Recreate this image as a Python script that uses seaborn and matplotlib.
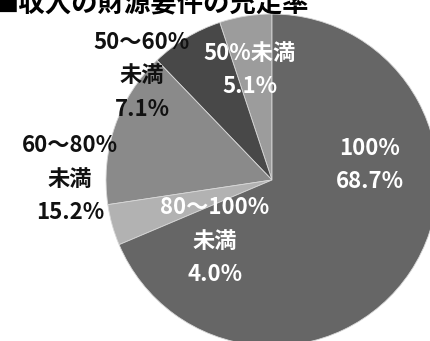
import matplotlib
matplotlib.use("Agg")
import matplotlib.pyplot as plt
import seaborn as sns

sns.set_theme(style="white")
plt.rcParams['font.family'] = ['Noto Sans CJK JP', 'DejaVu Sans']

# data (counter-clockwise from top)
categories = ["50%未満", "50～60%\n未満", "60～80%\n未満", "80～100%\n未満", "100%"]
values = [5.1, 7.1, 15.2, 4.0, 68.7]
pct_labels = ["5.1%", "7.1%", "15.2%", "4.0%", "68.7%"]
title = "■収入の財源要件の充足率"

# style
colors = ["#9c9c9c", "#484848", "#8a8a8a", "#b2b2b2", "#666666"]
text_colors = ["white", "#111111", "#111111", "white", "white"]
# label centres in pixel coords (x, y from top)
label_xy = [(250, 70), (142, 76), (70, 179), (215, 241), (370, 165)]

W, H = 430, 341
fig = plt.figure(figsize=(W / 100, H / 100), dpi=100)
ax = fig.add_axes([0, 0, 1, 1])

ax.pie(values, colors=colors, startangle=90, counterclock=True,
       center=(272, H - 180), radius=166, frame=True,
       wedgeprops=dict(edgecolor="#d8d8d8", linewidth=0.6))
ax.set_xlim(0, W)
ax.set_ylim(0, H)
ax.set_aspect('equal')
ax.axis('off')

for cat, pct, (x, y), tc in zip(categories, pct_labels, label_xy, text_colors):
    ax.text(x, H - y, cat + "\n" + pct, ha='center', va='center',
            fontsize=16, fontweight='bold', color=tc, linespacing=1.6)

fig.text(-8 / W, 1 - 12 / H, title, ha='left', va='baseline',
         fontsize=19, fontweight='bold', color='black')

fig.savefig("out.png", dpi=100)
